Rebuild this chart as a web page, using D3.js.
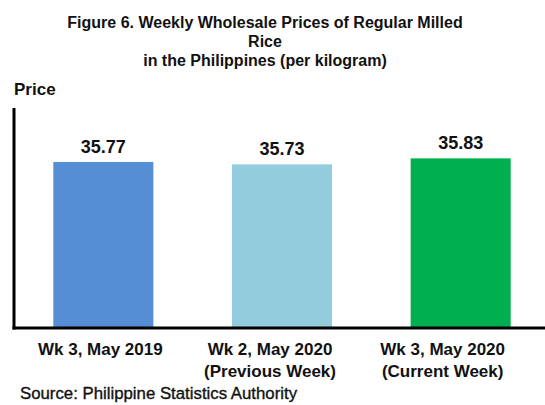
<!DOCTYPE html>
<html>
<head>
<meta charset="utf-8">
<script src="https://cdn.jsdelivr.net/npm/d3@7"></script>
<style>
  html, body { margin: 0; padding: 0; background: #fff; }
  svg { display: block; font-family: "Liberation Sans", Arial, sans-serif; }
</style>
</head>
<body>
<script>
const categories = ["Wk 3, May 2019", "Wk 2, May 2020", "Wk 3, May 2020"];
const subLabels = ["", "(Previous Week)", "(Current Week)"];
const values = [35.77, 35.73, 35.83];
const valueLabels = ["35.77", "35.73", "35.83"];
const colors = ["#558ED5", "#93CDDD", "#00B050"];
const titleLines = ["Figure 6. Weekly Wholesale Prices of Regular Milled", "Rice", "in the Philippines (per kilogram)"];
const yAxisTitle = "Price";
const sourceText = "Source: Philippine Statistics Authority";

const W = 545, H = 405;
const svg = d3.select("body").append("svg").attr("width", W).attr("height", H);

const axisX = 14, baseY = 328, topY = 108;
const x = d3.scaleBand().domain(categories).range([axisX, 550]).paddingInner(0.44).paddingOuter(0.22);
const y = d3.scaleLinear().domain([33, 36.67]).range([baseY, topY]);

// title
svg.append("g").selectAll("text").data(titleLines).join("text")
  .attr("x", 265).attr("y", (d, i) => 28 + i * 19)
  .attr("text-anchor", "middle").attr("font-weight", "bold").attr("font-size", 16)
  .attr("fill", "#111").text(d => d);

svg.append("text").attr("x", 14).attr("y", 95).attr("font-weight", "bold")
  .attr("font-size", 17).attr("fill", "#111").text(yAxisTitle);

// bars
const idx = d3.range(categories.length);
svg.append("g").selectAll("rect").data(idx).join("rect")
  .attr("x", i => x(categories[i])).attr("width", x.bandwidth())
  .attr("y", i => y(values[i])).attr("height", i => baseY - y(values[i]))
  .attr("fill", i => colors[i]);

svg.append("g").selectAll("text").data(idx).join("text")
  .attr("x", i => x(categories[i]) + x.bandwidth() / 2)
  .attr("y", i => y(values[i]) - 9)
  .attr("text-anchor", "middle").attr("font-weight", "bold").attr("font-size", 18)
  .attr("fill", "#111").text(i => valueLabels[i]);

// axes
svg.append("line").attr("x1", axisX).attr("x2", axisX).attr("y1", topY).attr("y2", baseY + 1.5)
  .attr("stroke", "#000").attr("stroke-width", 3);
svg.append("line").attr("x1", axisX - 1.5).attr("x2", W).attr("y1", baseY).attr("y2", baseY)
  .attr("stroke", "#000").attr("stroke-width", 3);

// category labels
const labelShift = [-3, -12, -18];
const lab = svg.append("g").selectAll("text").data(idx).join("text")
  .attr("text-anchor", "middle").attr("font-weight", "bold").attr("font-size", 17).attr("fill", "#111");
lab.append("tspan").attr("x", i => x(categories[i]) + x.bandwidth() / 2 + labelShift[i]).attr("y", 355)
  .text(i => categories[i]);
lab.append("tspan").attr("x", i => x(categories[i]) + x.bandwidth() / 2 + labelShift[i]).attr("y", 377)
  .text(i => subLabels[i]);

svg.append("text").attr("x", 20).attr("y", 399).attr("font-size", 16.8)
  .attr("fill", "#111").attr("stroke", "#111").attr("stroke-width", 0.35).text(sourceText);
</script>
</body>
</html>
